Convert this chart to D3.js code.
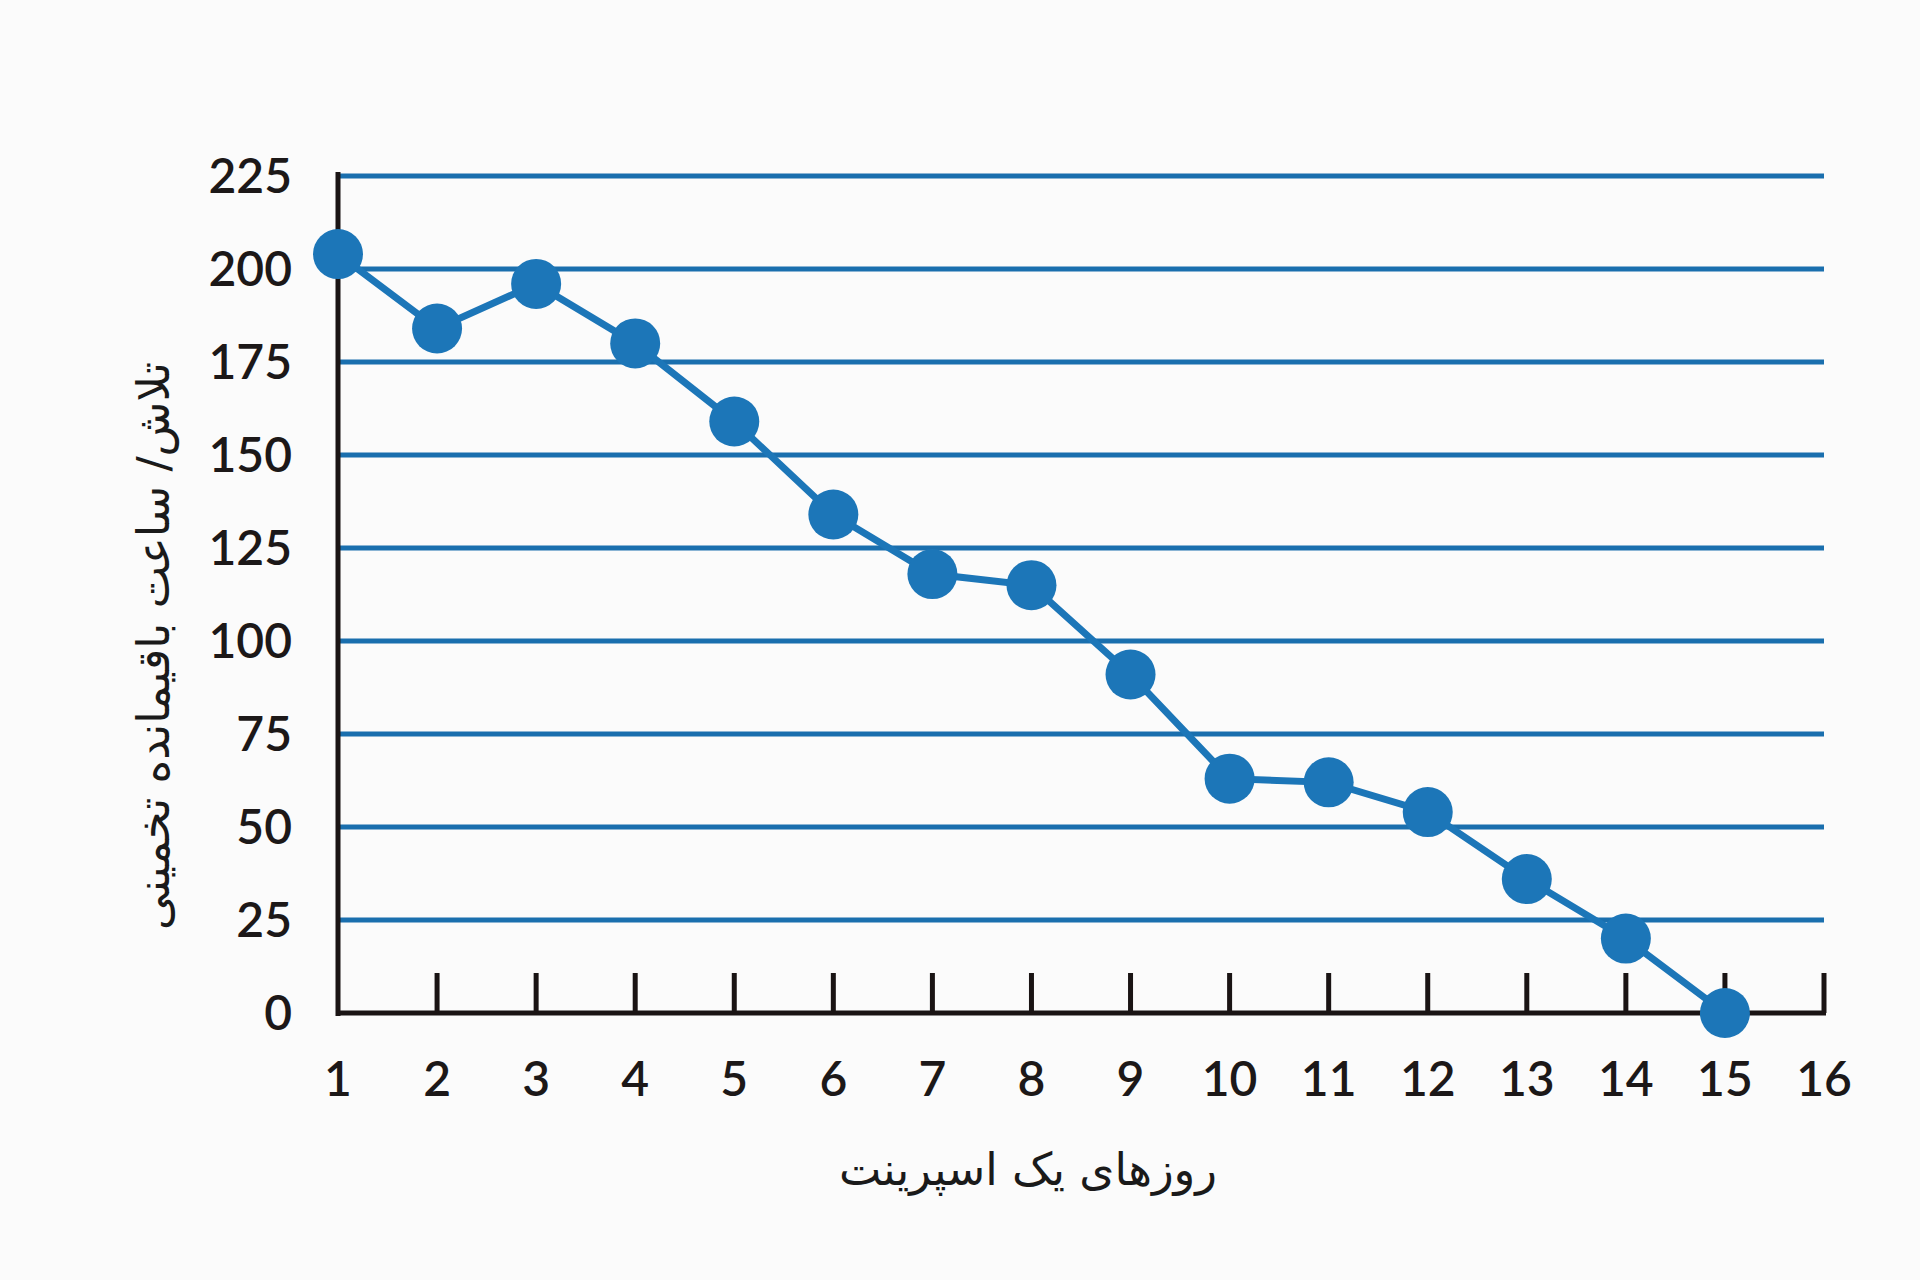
<!DOCTYPE html>
<html>
<head>
<meta charset="utf-8">
<script src="https://cdn.jsdelivr.net/npm/d3@7/dist/d3.min.js"></script>
<style>
  html, body { margin: 0; padding: 0; background: #fbfbfb; }
  svg { display: block; }
  .tick-label { font-family: Lato, "DejaVu Sans", sans-serif; font-size: 48px; font-weight: 600; fill: #1c1818; }
  .axis-title { font-family: "DejaVu Sans", sans-serif; font-size: 45px; fill: #1a1a1a; }
</style>
</head>
<body>
<div id="chart"></div>
<script>
// sprint days and remaining estimated hours
const days = [1, 2, 3, 4, 5, 6, 7, 8, 9, 10, 11, 12, 13, 14, 15];
const remaining = [204, 184, 196, 180, 159, 134, 118, 115, 91, 63, 62, 54, 36, 20, 0];
const yTicks = [0, 25, 50, 75, 100, 125, 150, 175, 200, 225];
const xTicks = [1, 2, 3, 4, 5, 6, 7, 8, 9, 10, 11, 12, 13, 14, 15, 16];
const xTitle = "روزهای یک اسپرینت";
const yTitle = "تلاش/ ساعت باقیمانده تخمینی";

const W = 1920, H = 1280;
const margin = { left: 338, right: 96, top: 176, bottom: 267 };

const blue = "#1a6fae";
const dotBlue = "#1c76b8";

const svg = d3.select("#chart").append("svg")
  .attr("width", W).attr("height", H);

const x = d3.scaleLinear().domain([1, 16]).range([margin.left, W - margin.right]);
const y = d3.scaleLinear().domain([0, 225]).range([H - margin.bottom, margin.top]);

// horizontal gridlines (not at zero: that's the black axis)
svg.append("g").selectAll("line")
  .data(yTicks.filter(d => d > 0))
  .join("line")
  .attr("x1", x(1)).attr("x2", x(16))
  .attr("y1", d => y(d)).attr("y2", d => y(d))
  .attr("stroke", blue).attr("stroke-width", 5);

// y tick labels
svg.append("g").selectAll("text")
  .data(yTicks)
  .join("text")
  .attr("class", "tick-label")
  .attr("x", x(1) - 46)
  .attr("y", d => y(d))
  .attr("dy", "0.36em")
  .attr("text-anchor", "end")
  .text(d => d);

// x tick marks, pointing up
svg.append("g").selectAll("line")
  .data(xTicks.filter(d => d > 1))
  .join("line")
  .attr("x1", d => x(d)).attr("x2", d => x(d))
  .attr("y1", y(0)).attr("y2", y(0) - 40)
  .attr("stroke", "#1a1414").attr("stroke-width", 5);

// axes lines
svg.append("line")
  .attr("x1", x(1)).attr("x2", x(1))
  .attr("y1", y(225) - 4).attr("y2", y(0) + 3)
  .attr("stroke", "#1a1414").attr("stroke-width", 5);
svg.append("line")
  .attr("x1", x(1) - 2).attr("x2", x(16) + 2)
  .attr("y1", y(0)).attr("y2", y(0))
  .attr("stroke", "#1a1414").attr("stroke-width", 5);

// x tick labels
svg.append("g").selectAll("text")
  .data(xTicks)
  .join("text")
  .attr("class", "tick-label")
  .attr("x", d => x(d))
  .attr("y", y(0) + 66)
  .attr("dy", "0.36em")
  .attr("text-anchor", "middle")
  .text(d => d);

// burndown line
const line = d3.line()
  .x((d, i) => x(days[i]))
  .y(d => y(d));

svg.append("path")
  .datum(remaining)
  .attr("d", line)
  .attr("fill", "none")
  .attr("stroke", dotBlue)
  .attr("stroke-width", 7);

svg.append("g").selectAll("circle")
  .data(remaining)
  .join("circle")
  .attr("cx", (d, i) => x(days[i]))
  .attr("cy", d => y(d))
  .attr("r", 25)
  .attr("fill", dotBlue);

// axis titles
svg.append("text")
  .attr("class", "axis-title")
  .attr("x", 1028)
  .attr("y", 1169)
  .attr("dy", "0.35em")
  .attr("text-anchor", "middle")
  .attr("direction", "rtl")
  .text(xTitle);

svg.append("text")
  .attr("class", "axis-title")
  .attr("transform", "translate(153,646) rotate(-90)")
  .attr("dy", "0.35em")
  .attr("text-anchor", "middle")
  .attr("direction", "rtl")
  .text(yTitle);
</script>
</body>
</html>
